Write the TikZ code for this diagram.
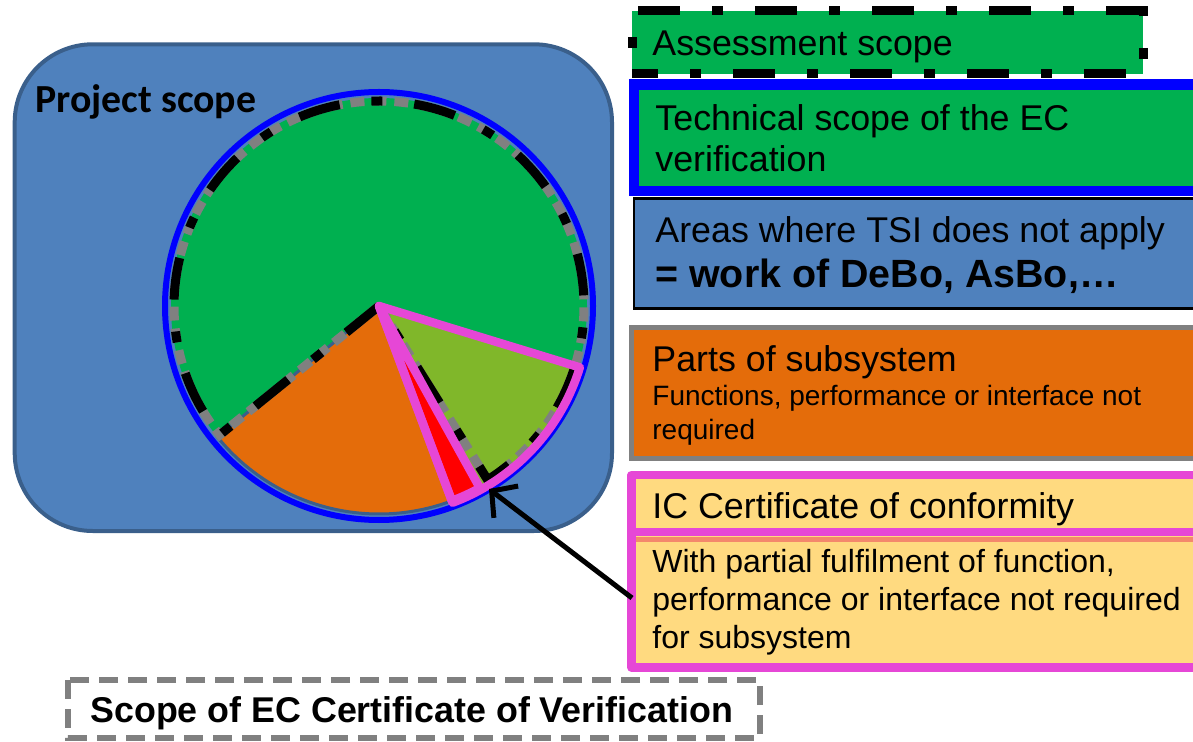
\documentclass[tikz,border=0pt]{standalone}
\usepackage{fontspec}
\setmainfont{Liberation Sans}
\newfontfamily\calibrifont{Carlito}
\usetikzlibrary{arrows.meta}

\definecolor{projblue}{HTML}{4F81BD}
\definecolor{projedge}{HTML}{3A5F8B}
\definecolor{scopegreen}{HTML}{00B050}
\definecolor{partgreen}{HTML}{80B72A}
\definecolor{partorange}{HTML}{E46C0A}
\definecolor{icpink}{HTML}{E647D6}
\definecolor{icyellow}{HTML}{FFDA80}
\definecolor{icsalmon}{HTML}{F4886C}
\definecolor{ecgray}{HTML}{808080}

\tikzset{
  legtext/.style={anchor=base west, inner sep=0pt},
  big/.style={font=\fontsize{17.9}{20}\selectfont},
  small/.style={font=\fontsize{14}{17}\selectfont},
  assessline/.style={black, line width=4.5pt, dash pattern=on 21pt off 16pt on 5.5pt off 16pt},
  ecline/.style={ecgray, line width=4.5pt, dash pattern=on 7pt off 4pt},
  icline/.style={icpink, line width=4.25pt, line join=round}
}

\begin{document}
\begin{tikzpicture}[x=0.5pt,y=-0.5pt]
\useasboundingbox (0,0) rectangle (1193,742);
\clip (0,0) rectangle (1193,742);

% project scope
\draw[projedge, line width=2pt, fill=projblue, rounded corners=39pt] (14.7,44.3) rectangle (612,531);
\node[legtext, font=\calibrifont\bfseries\fontsize{19.9}{24}\selectfont] (project) at (35,113) {Project scope};

% pie
\coordinate (c) at (379,306);
\draw[blue, line width=3pt] (c) circle (214);
\fill[scopegreen] (c) circle (208);
\draw[projedge, line width=1.5pt, fill=partorange] (c) -- ++(141:208) arc[start angle=141, end angle=69.5, radius=208] -- cycle;
\fill[red] (c) -- ++(69.5:208) arc[start angle=69.5, end angle=61, radius=208] -- cycle;
\fill[partgreen] (c) -- ++(61:208) arc[start angle=61, end angle=17, radius=208] -- cycle;

\draw[ecline] (c) -- ++(-219:205) arc[start angle=-219, end angle=58, radius=205] -- cycle;
\draw[assessline] (c) -- ++(-219:205) arc[start angle=-219, end angle=58, radius=205] -- cycle;

\draw[icline] (c) -- ++(17:210) arc[start angle=17, end angle=69.5, radius=210] -- cycle;
\draw[icline] (c) -- ++(61:208) arc[start angle=61, end angle=69.5, radius=208] -- cycle;

% legend
\fill[scopegreen] (632,11) rectangle (1143,74);
\draw[assessline, dash phase=24pt] (632,74) -- (632,11) -- (1143,11) -- (1143,74) -- cycle;
\node[legtext, big] (assess) at (652,56) {Assessment scope};

\draw[blue, line width=5.25pt, fill=scopegreen] (634,84.5) rectangle (1230,191);
\node[legtext, big] (technical) at (655,131) {Technical scope of the EC};
\node[legtext, big] (technical2) at (655,172) {verification};

\draw[black, line width=1.25pt, fill=projblue] (634,198.5) rectangle (1230,308.5);
\node[legtext, big] (areas) at (655,243) {Areas where TSI does not apply};
\node[legtext, font=\bfseries\fontsize{19.7}{24}\selectfont] (work) at (655,288) {= work of DeBo, AsBo,\dots};

\draw[ecgray, line width=2.5pt, fill=partorange] (631.5,328) rectangle (1230,459);
\node[legtext, big] (parts) at (652,372) {Parts of subsystem};
\node[legtext, small] (partsnote) at (652,406) {Functions, performance or interface not};
\node[legtext, small] (partsnote2) at (652,440) {required};

\draw[icline, fill=icyellow] (631.5,475) rectangle (1230,532);
\draw[icline, fill=icyellow] (631.5,532) rectangle (1230,667.5);
\draw[icsalmon, line width=2.3pt] (636,539.5) -- (1230,539.5);
\node[legtext, big] (ic) at (652,518) {IC Certificate of conformity};
\node[legtext, font=\fontsize{16}{19}\selectfont] (icnote) at (652,572) {With partial fulfilment of function,};
\node[legtext, font=\fontsize{16}{19}\selectfont] (icnote2) at (652,610) {performance or interface not required};
\node[legtext, font=\fontsize{16}{19}\selectfont] (icnote3) at (652,648) {for subsystem};

% arrow
\coordinate (arrowstart) at (632,598);
\coordinate (arrowtip) at (489,489);
\draw[line width=2.5pt, -{Straight Barb[length=9pt, width=20pt]}] (arrowstart) -- (arrowtip);

% EC certificate
\draw[ecgray, line width=3pt, dash pattern=on 9.5pt off 5pt] (68,680) rectangle (760,738);
\node[legtext, font=\bfseries\fontsize{17.9}{20}\selectfont] (ecscope) at (90,722) {Scope of EC Certificate of Verification};

\end{tikzpicture}
\end{document}
